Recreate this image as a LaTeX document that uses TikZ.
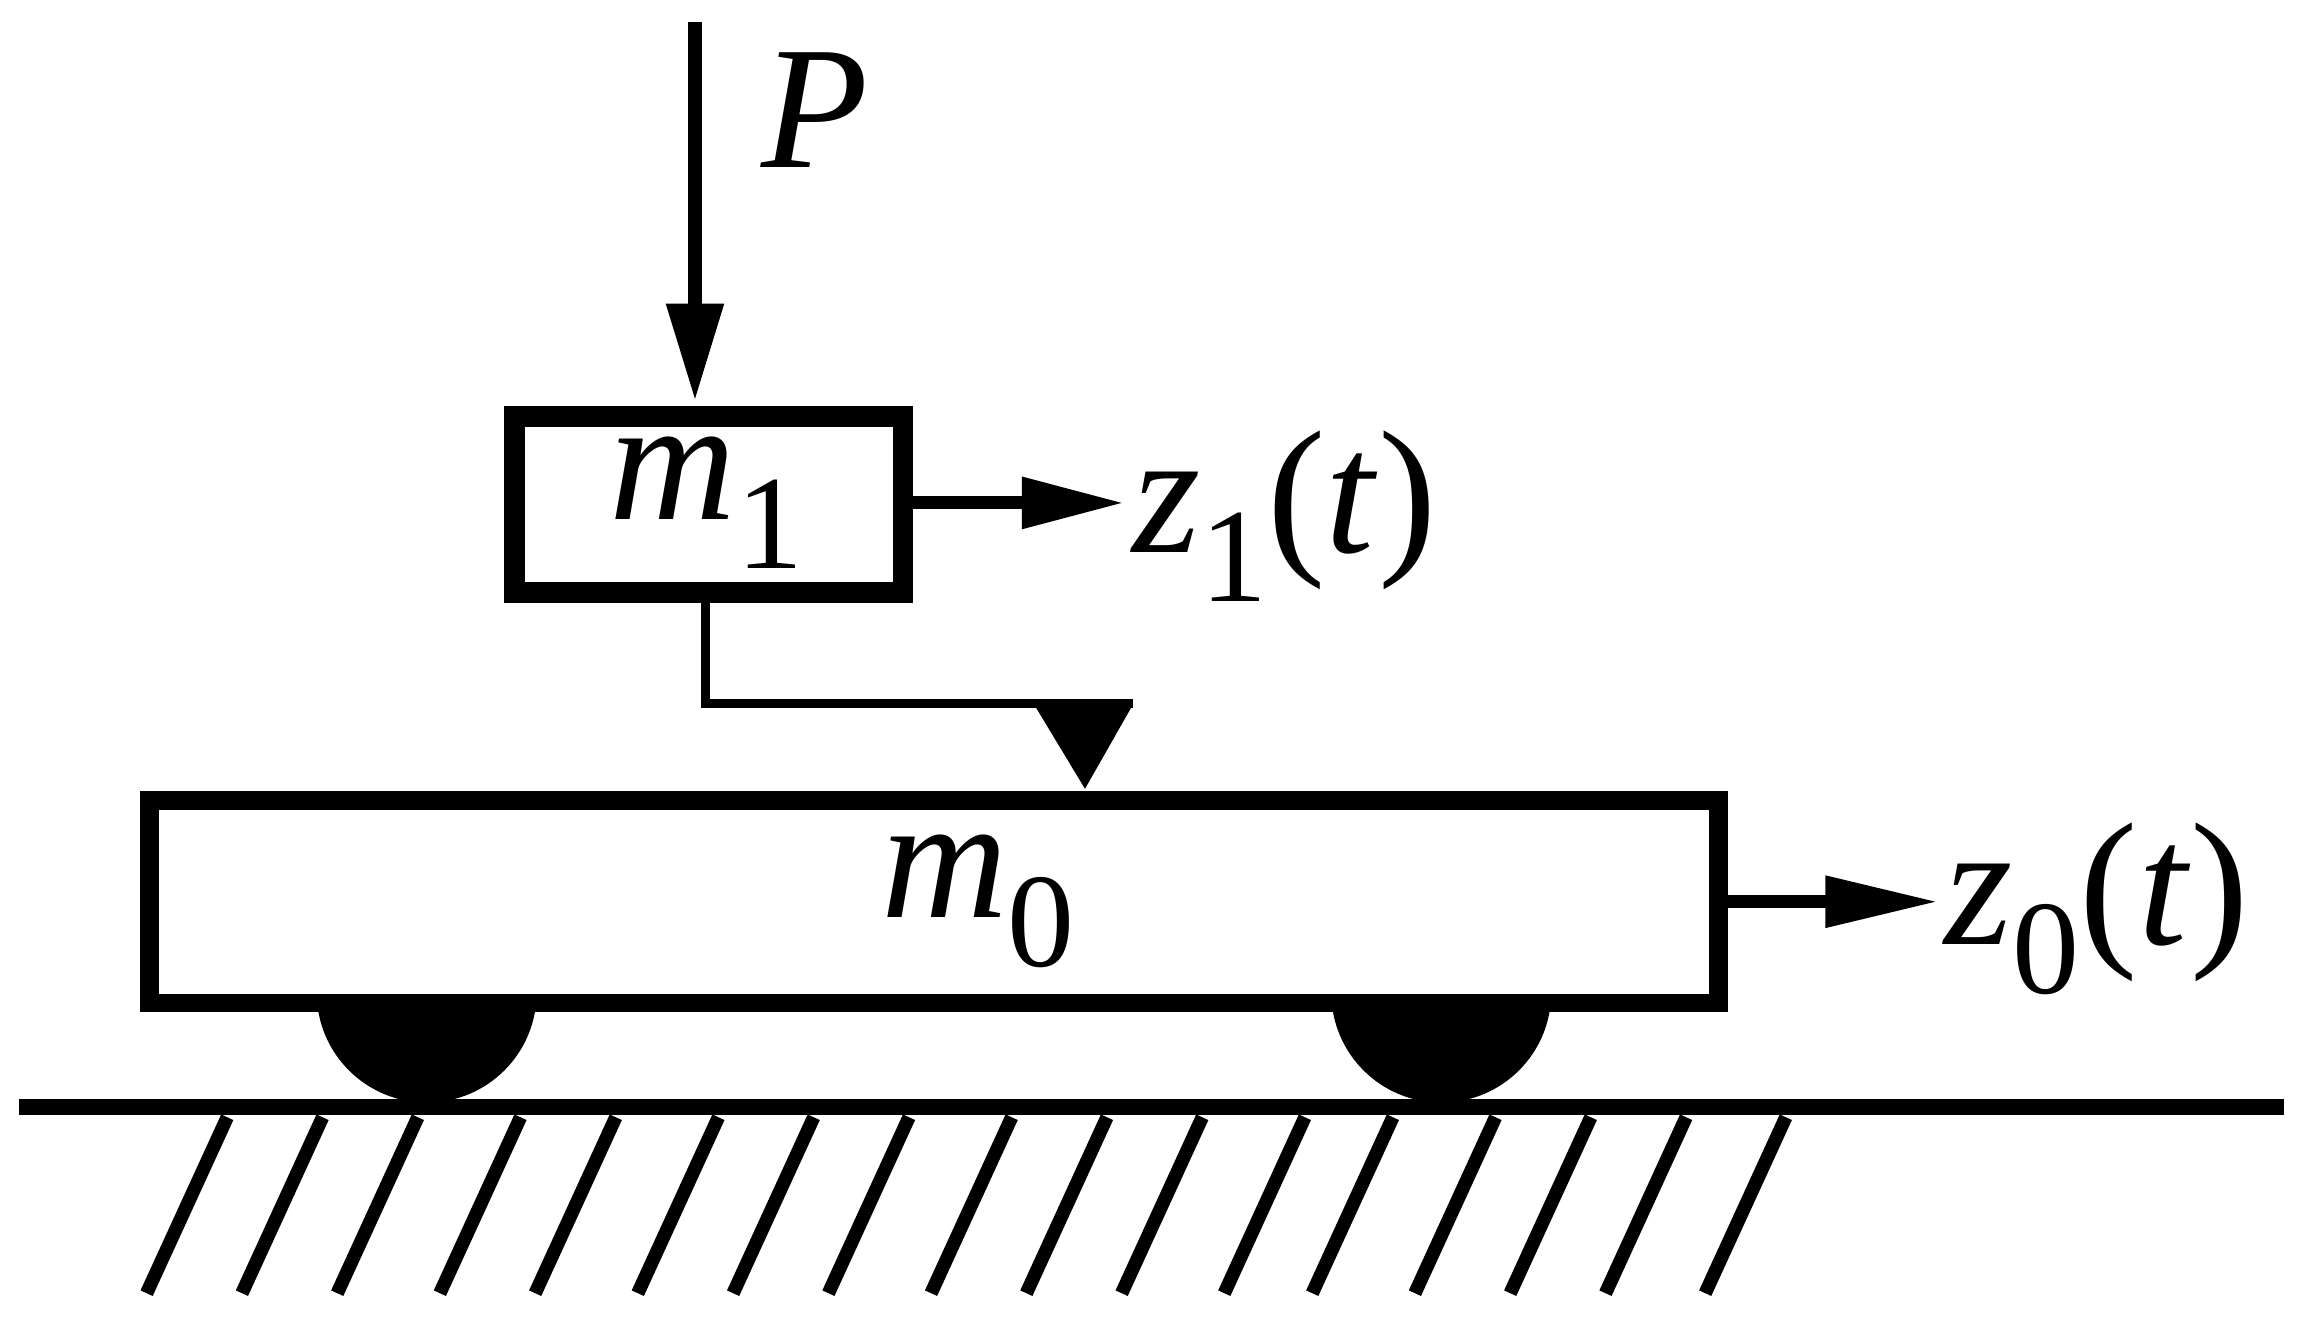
\documentclass[tikz,border=0pt]{standalone}
\usepackage{fontspec}
\setmainfont{Liberation Serif}
\newfontfamily\tnr{Liberation Serif}
\newcommand{\sbx}[1]{\raisebox{-0.28em}{\fontsize{26}{30}\selectfont\upshape #1}}
\begin{document}
\begin{tikzpicture}[x=0.01cm,y=-0.01cm,
  lbl/.style={font=\tnr\fontsize{34}{38}\selectfont\itshape,inner sep=0},
  head/.style={fill=black}]
\useasboundingbox (0,0) rectangle (1568,900);
% P arrow
\draw[line width=2.8pt] (474,15) -- (474,215);
\fill[head] (454,207) -- (494,207) -- (474,272) -- cycle;
\node[lbl] at (556,75) {P};
% m1
\draw[line width=4pt] (351,284) rectangle (616,404);
\node[lbl] at (482,343) {m\sbx{1}};
\draw[line width=2.5pt] (622,343) -- (705,343);
\fill[head] (697,325) -- (765,343) -- (697,361) -- cycle;
\node[lbl] at (876,352) {z\sbx{1}\upshape(\textit{t}\upshape)};
% connector
\draw[line width=1.8pt] (481,410) -- (481,480) -- (773,480);
\fill[head] (705,480) -- (773,480) -- (740,538) -- cycle;
% m0
\draw[line width=3.6pt] (102,546) rectangle (1172,684);
\node[lbl] at (667,615) {m\sbx{0}};
\draw[line width=2.5pt] (1178,615) -- (1250,615);
\fill[head] (1245,597) -- (1320,615) -- (1245,633) -- cycle;
\node[lbl] at (1430,620) {z\sbx{0}\upshape(\textit{t}\upshape)};
% wheels
\begin{scope}
\clip (0,690) rectangle (1568,760);
\fill (291,677) circle (75);
\fill (983,677) circle (75);
\end{scope}
% ground
\draw[line width=3pt] (13,755) -- (1558,755);
\foreach \x in {155,220,285,355,420,490,555,620,690,755,820,890,950,1020,1085,1150,1218}
  \draw[line width=2.6pt] (\x,762) -- (\x-55,882);
\end{tikzpicture}
\end{document}
